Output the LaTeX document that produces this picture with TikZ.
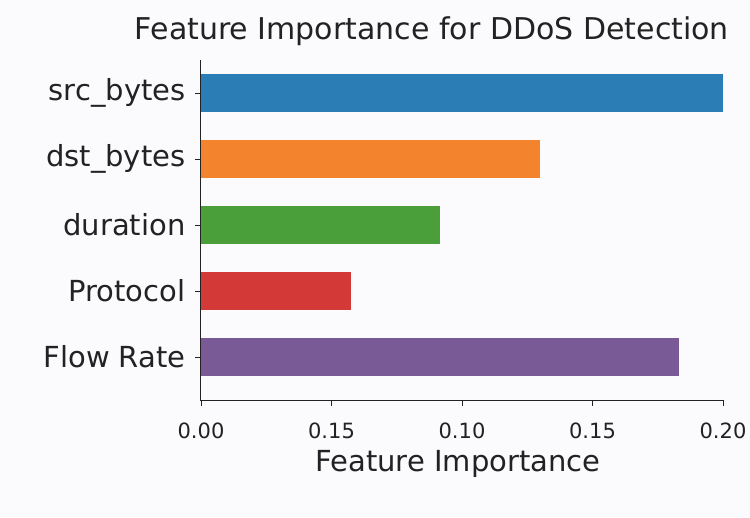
\documentclass[tikz,border=0pt]{standalone}
\usepackage{fontspec}
\setmainfont{DejaVu Sans}
\usepackage{xcolor}
\usepackage{tikz}
\usetikzlibrary{positioning}
\definecolor{BarBlue}{HTML}{2A7DB5}
\definecolor{BarOrange}{HTML}{F3832C}
\definecolor{BarGreen}{HTML}{4A9F3B}
\definecolor{BarRed}{HTML}{D33A37}
\definecolor{BarPurple}{HTML}{7A5A96}
\definecolor{PlotInk}{HTML}{222222}
\definecolor{PlotPaper}{HTML}{FBFBFD}

\begin{document}
\begin{tikzpicture}[x=1pt,y=1pt,
    spine/.style={PlotInk,line width=1pt},
    tickmark/.style={PlotInk,line width=0.9pt},
    barlabel/.style={PlotInk,anchor=east,font=\fontsize{29}{29}\selectfont},
    ticklabel/.style={PlotInk,anchor=north,font=\fontsize{21}{21}\selectfont},
    bar/.style={inner sep=0pt,minimum height=38pt,anchor=west}]
  % page and margins
  \fill[PlotPaper] (-201,-117) rectangle (549,400);
  \useasboundingbox (-201,-117) rectangle (549,400);
  % bars, from the bottom up
  \foreach \y/\len/\col/\lab/\nm in {43/478/BarPurple/Flow Rate/flow,
      109/150/BarRed/Protocol/proto,175/239/BarGreen/duration/dur,
      241/339/BarOrange/dst\_bytes/dst,307/522/BarBlue/src\_bytes/src}{%
    \node[bar,fill=\col,minimum width=\len pt] (\nm) at (0,\y) {};
    \coordinate (\nm-tick) at (-6,\y);
    \draw[tickmark] (\nm-tick) -- (\nm.west);
    \node[barlabel] (\nm-lab) at (-12,\y) {\lab};
  }
  % axes
  \coordinate (origin) at (0,0);
  \coordinate (ytop) at (0,340);
  \coordinate (xend) at (522,0);
  \draw[spine] (ytop) -- (origin) -- (xend);
  \foreach \i/\lab in {0/0.00,1/0.15,2/0.10,3/0.15,4/0.20}{%
    \coordinate (xt\i) at (130.5*\i,0);
    \draw[tickmark] (xt\i) -- ++(0,-6);
    \node[ticklabel] (xl\i) at ([yshift=-19pt]xt\i) {\lab};
  }
  \node[PlotInk,font=\fontsize{29}{29}\selectfont] (xlabel) at (257,-64) {Feature Importance};
  \node[PlotInk,font=\fontsize{30}{30}\selectfont] (title) at (231,369) {Feature Importance for DDoS Detection};
\end{tikzpicture}
\end{document}
